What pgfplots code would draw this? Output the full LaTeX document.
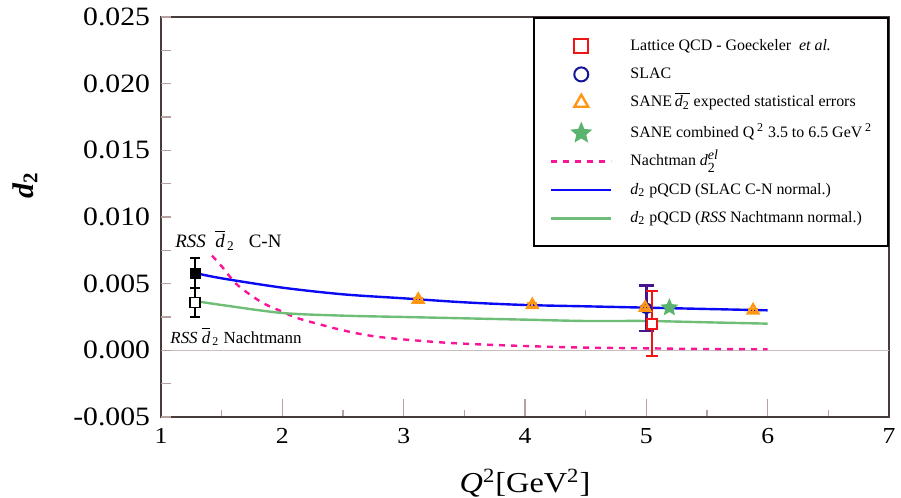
\documentclass[border=0pt]{standalone}
\usepackage{pgfplots}
\pgfplotsset{compat=1.18}
\usetikzlibrary{plotmarks}
\usepackage{fontspec}
\setmainfont{Liberation Serif}
\newfontfamily\wide[FakeStretch=1.12]{Liberation Serif}

\definecolor{latred}{RGB}{240,20,20}
\definecolor{slacnavy}{RGB}{20,20,150}
\definecolor{slacbar}{RGB}{70,20,140}
\definecolor{saneorange}{RGB}{255,150,20}
\definecolor{stargreen}{RGB}{90,180,110}
\definecolor{pqcdblue}{RGB}{10,10,245}
\definecolor{pqcdgreen}{RGB}{110,190,120}
\definecolor{nachpink}{RGB}{250,20,150}
\definecolor{tickgray}{RGB}{185,160,160}
\definecolor{framegray}{RGB}{70,60,60}
\definecolor{zerogray}{RGB}{200,190,190}

\newcommand{\dd}{\textit{d}\textsubscript{2}}

% filled five-pointed star
\pgfdeclareplotmark{fivestar}{%
  \pgfpathmoveto{\pgfpointpolar{90}{\pgfplotmarksize}}%
  \pgfpathlineto{\pgfpointpolar{126}{0.45\pgfplotmarksize}}%
  \pgfpathlineto{\pgfpointpolar{162}{\pgfplotmarksize}}%
  \pgfpathlineto{\pgfpointpolar{198}{0.45\pgfplotmarksize}}%
  \pgfpathlineto{\pgfpointpolar{234}{\pgfplotmarksize}}%
  \pgfpathlineto{\pgfpointpolar{270}{0.45\pgfplotmarksize}}%
  \pgfpathlineto{\pgfpointpolar{306}{\pgfplotmarksize}}%
  \pgfpathlineto{\pgfpointpolar{342}{0.45\pgfplotmarksize}}%
  \pgfpathlineto{\pgfpointpolar{18}{\pgfplotmarksize}}%
  \pgfpathlineto{\pgfpointpolar{54}{0.45\pgfplotmarksize}}%
  \pgfpathclose
  \pgfusepathqfillstroke}

\pgfplotsset{
    frame/.style={
        scale only axis,
        width=364bp, height=200bp,
        xmin=1, xmax=7, ymin=-0.005, ymax=0.025,
        tick align=inside,
        tick style={draw=tickgray, line width=0.6bp},
        scaled y ticks=false,
    },
}

\begin{document}
\begin{tikzpicture}
\begin{axis}[
    frame,
    xtick={1,2,3,4,5,6,7},
    ytick={-0.005,0,0.005,0.010,0.015,0.020,0.025},
    minor x tick num=1, minor y tick num=1,
    xtick pos=lower, ytick pos=left,
    major tick length=9bp, minor tick length=3.5bp,
    y tick style={draw=none},
    axis line style={draw=framegray, line width=1bp},
    yticklabel style={/pgf/number format/fixed, /pgf/number format/fixed zerofill,
        /pgf/number format/precision=3, /pgf/number format/assume math mode=true,
        xshift=-2bp, font=\wide\fontsize{13.3}{15}\selectfont},
    xticklabel style={/pgf/number format/assume math mode=true, yshift=-2bp,
        font=\wide\fontsize{11.5}{14}\selectfont},
    clip=false,
    legend cell align=left,
    legend style={at={(rel axis cs:1,1)}, anchor=north east,
        draw=black, line width=1bp,
        font=\fontsize{8}{9.5}\selectfont,
        inner xsep=8bp, inner ysep=10bp, row sep=6.2bp,
        nodes={inner sep=0pt, text height=6bp, text depth=2bp},
        /tikz/every odd column/.append style={column sep=9bp}},
    legend image code/.code={\draw[mark repeat=2, mark phase=2, #1]
        plot coordinates {(0bp,0bp) (15bp,0bp) (30bp,0bp)};},
]

% legend entries in the order of the reference
\addlegendimage{only marks, mark=square, mark size=3.5bp, draw=latred, line width=1bp}
\addlegendentry{Lattice QCD - Goeckeler\ \ \textit{et al.}}
\addlegendimage{only marks, mark=o, mark size=3.5bp, draw=slacnavy, line width=1bp}
\addlegendentry{SLAC}
\addlegendimage{only marks, mark=triangle, mark size=4bp, draw=saneorange, line width=1.2bp}
\addlegendentry{SANE\,$\overline{\mbox{\dd}}$ expected statistical errors}
\addlegendimage{only marks, mark=fivestar, mark size=5bp, draw=stargreen, fill=stargreen, line width=0.6bp}
\addlegendentry{SANE combined Q\,\textsuperscript{2} 3.5 to 6.5 GeV\,\textsuperscript{2}}
\addlegendimage{nachpink, line width=1.2bp, dash pattern=on 3bp off 3bp}
\addlegendentry{Nachtman $\mbox{\textit{d}}_{\mbox{\scriptsize 2}}^{\mbox{\scriptsize\textit{el}}}$}
\addlegendimage{pqcdblue, line width=1.2bp}
\addlegendentry{\dd{} pQCD (SLAC C-N normal.)}
\addlegendimage{pqcdgreen, line width=1.2bp}
\addlegendentry{\dd{} pQCD (\textit{RSS} Nachtmann normal.)}

% zero line
\addplot[forget plot, zerogray, line width=0.8bp] coordinates {(1,0) (7,0)};

% Nachtmann d2 elastic
\addplot[forget plot, nachpink, line width=1.2bp, dash pattern=on 3bp off 3bp, smooth] coordinates {
    (1.42,0.0071) (1.5,0.0063) (1.63,0.0049) (1.83,0.0036) (2.0,0.0029)
    (2.13,0.0024) (2.5,0.0015) (2.8,0.0010) (3.3,0.0006) (3.75,0.0004)
    (4.4,0.00022) (5.0,0.00015) (5.5,0.0001) (6.0,0.00008)
};

% pQCD evolution, RSS Nachtmann normalisation
\addplot[forget plot, pqcdgreen, line width=1.2bp, smooth] coordinates {
    (1.28,0.0037) (1.5,0.0034) (2.0,0.0028) (2.5,0.0026) (3.0,0.0025)
    (3.5,0.0024) (4.0,0.0023) (4.5,0.0022) (5.0,0.0022) (5.5,0.0021) (6.0,0.0020)
};

% pQCD evolution, SLAC C-N normalisation
\addplot[forget plot, pqcdblue, line width=1.2bp, smooth] coordinates {
    (1.28,0.0058) (1.5,0.0054) (2.0,0.0047) (2.5,0.0042) (3.0,0.0039)
    (3.5,0.0036) (4.0,0.0034) (4.5,0.0033) (5.0,0.0032) (5.5,0.0031) (6.0,0.0030)
};

% SLAC
\addplot[forget plot, only marks, mark=o, mark size=2.5bp, draw=slacnavy, line width=1bp,
    error bars/.cd, y dir=both, y explicit,
    error bar style={slacbar, line width=1.2bp},
    error mark options={rotate=90, slacbar, mark size=3.7bp, line width=1.2bp}]
    coordinates {(5.0,0.00315) +- (0,0.0017)};

% SANE expected
\addplot[forget plot, only marks, mark=triangle, mark size=3bp, draw=saneorange, line width=1.2bp,
    error bars/.cd, y dir=both, y explicit,
    error bar style={saneorange, line width=1bp},
    error mark options={rotate=90, saneorange, mark size=2.5bp, line width=1bp}]
    coordinates {
    (3.12,0.0038) +- (0,0.00012)
    (4.06,0.0034) +- (0,0.00012)
    (4.99,0.0032) +- (0,0.00012)
    (5.88,0.0030) +- (0,0.00012)
};

% Lattice QCD
\addplot[forget plot, only marks, mark=square*, mark size=2.5bp, draw=latred, fill=white, line width=1bp,
    error bars/.cd, y dir=both, y explicit,
    error bar style={latred, line width=1bp},
    error mark options={rotate=90, latred, mark size=3bp, line width=1bp}]
    coordinates {(5.05,0.0020) +- (0,0.00245)};

% SANE combined
\addplot[forget plot, only marks, mark=fivestar, mark size=4bp, draw=stargreen, fill=stargreen, line width=0.6bp]
    coordinates {(5.19,0.0032)};

% RSS C-N (filled) and Nachtmann (open)
\addplot[forget plot, only marks, mark=square*, mark size=2.5bp, black,
    error bars/.cd, y dir=both, y explicit,
    error bar style={black, line width=1bp},
    error mark options={rotate=90, black, mark size=2.5bp, line width=1bp}]
    coordinates {(1.28,0.0058) +- (0,0.0011)};
\addplot[forget plot, only marks, mark=square*, mark size=2.5bp, draw=black, fill=white, line width=0.8bp,
    error bars/.cd, y dir=both, y explicit,
    error bar style={black, line width=1bp},
    error mark options={rotate=90, black, mark size=2.5bp, line width=1bp}]
    coordinates {(1.28,0.0036) +- (0,0.0011)};

\node[anchor=west, inner sep=0pt, font=\fontsize{9.5}{11}\selectfont] at (axis cs:1.115,0.00825)
    {\textit{RSS}\ \ $\overline{\mbox{\textit{d}}}$\textsubscript{\,2}\ \ \ C-N};
\node[anchor=west, inner sep=0pt, font=\fontsize{8.5}{10}\selectfont] at (axis cs:1.074,0.00105)
    {\textit{RSS}\ $\overline{\mbox{\textit{d}}}$\textsubscript{\,2} Nachtmann};

% axis labels
\node[rotate=90, font=\fontsize{15}{18}\selectfont] at (rel axis cs:-0.187,0.58)
    {\textbf{\textit{d}\textsubscript{2}}};
\node[font=\wide\fontsize{14.5}{17}\selectfont] at (rel axis cs:0.5,-0.165)
    {\textit{Q}\textsuperscript{2}[GeV\textsuperscript{2}]};

\coordinate (bl) at (rel axis cs:-0.2212,-0.2025);
\coordinate (tr) at (rel axis cs:1.0165,1.0425);
\end{axis}

% y ticks: major and minor of one length on the left side
\begin{axis}[
    frame,
    axis line style={draw=none},
    xtick=\empty,
    ytick={-0.005,0,0.005,0.010,0.015,0.020,0.025},
    minor y tick num=1,
    ytick pos=left,
    yticklabels={},
    major tick length=5bp, minor tick length=5bp,
]
\end{axis}
\pgfresetboundingbox
\path (bl) rectangle (tr);
\end{tikzpicture}
\end{document}
